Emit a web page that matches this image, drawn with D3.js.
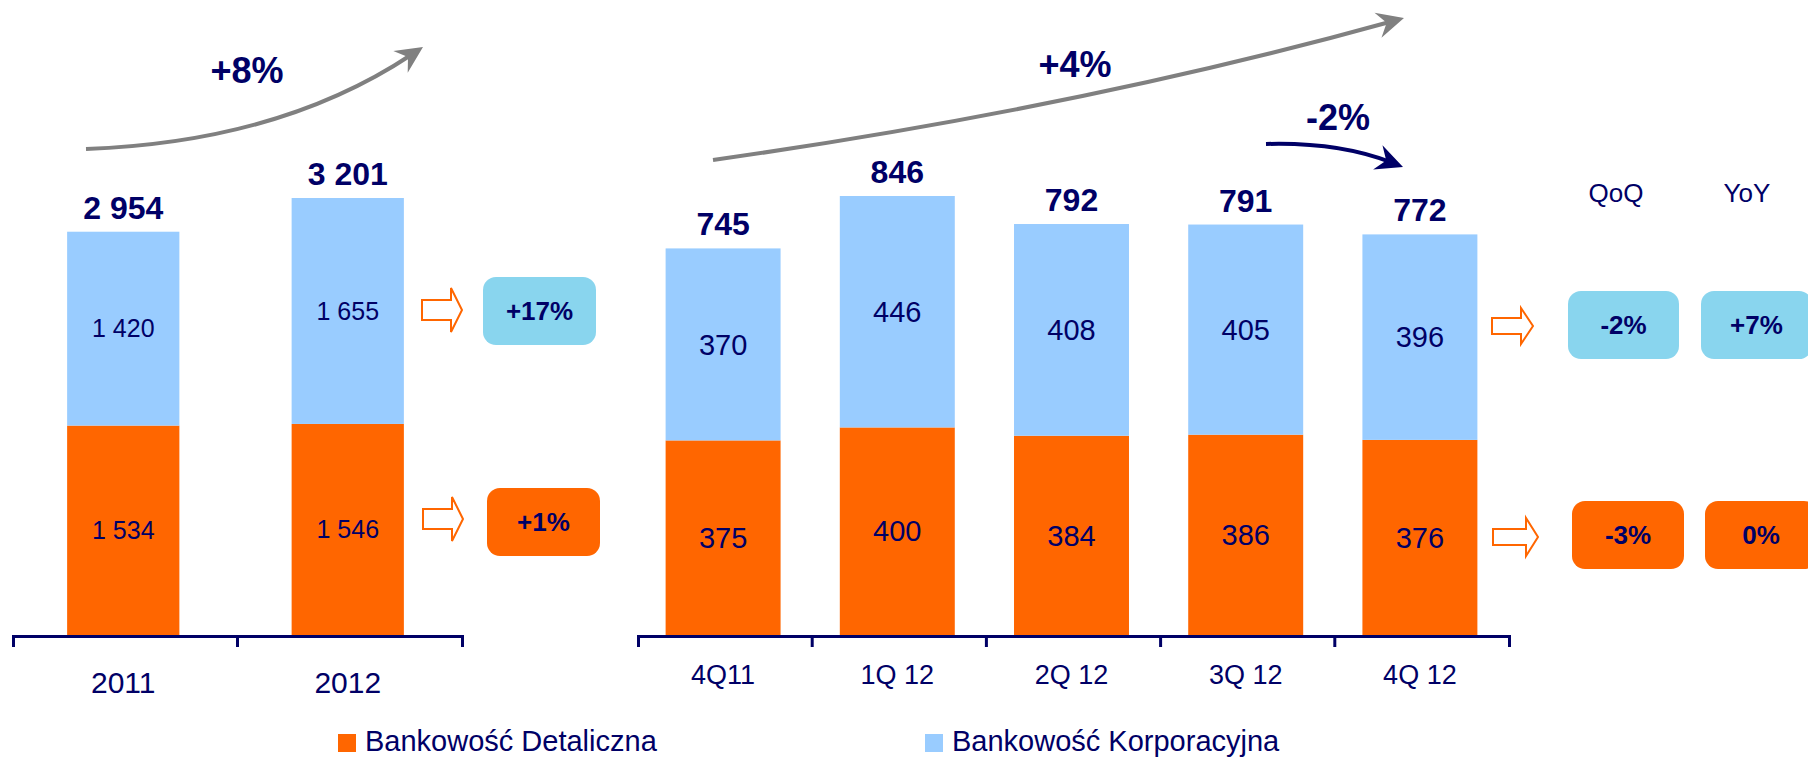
<!DOCTYPE html>
<html>
<head>
<meta charset="utf-8">
<script src="https://cdn.jsdelivr.net/npm/d3@7"></script>
<style>
	body { margin: 0; background: #fff; }
	text { font-family: "Liberation Sans", Arial, sans-serif; fill: #000066; }
</style>
</head>
<body>
<div id="chart"></div>
<script>

// DATA
const years = ["2011", "2012"];
const yearRetail = [1534, 1546];
const yearCorporate = [1420, 1655];

const quarters = ["4Q11", "1Q 12", "2Q 12", "3Q 12", "4Q 12"];
const qRetail = [375, 400, 384, 386, 376];
const qCorporate = [370, 446, 408, 405, 396];

const seriesNames = ["Bankowość Detaliczna", "Bankowość Korporacyjna"];
const yearChange = ["+17%", "+1%"];   // corporate, retail
const qoqChange = ["-2%", "-3%"];
const yoyChange = ["+7%", "0%"];
const changeHeads = ["QoQ", "YoY"];
const trendLabels = ["+8%", "+4%", "-2%"];


// COLOURS
const ORANGE = "#FF6600";
const BLUE = "#99CCFF";
const BOXBLUE = "#89D5EE";
const NAVY = "#000066";
const GREY = "#808080";

const W = 1808, H = 758;
const BASE = 635;
const fmt = d3.formatLocale({ decimal: ",", thousands: " ", grouping: [3], currency: ["", ""] }).format(",");


// svg
const svg = d3.select("#chart")
	.append("svg")
	.attr("width", W)
	.attr("height", H);

// arrow heads
const defs = svg.append("defs");
function marker(id, color) {
	defs.append("marker")
		.attr("id", id)
		.attr("markerUnits", "userSpaceOnUse")
		.attr("viewBox", "-30 -16 32 32")
		.attr("markerWidth", 32)
		.attr("markerHeight", 32)
		.attr("refX", -14)
		.attr("refY", 0)
		.attr("orient", "auto")
		.append("path")
		.attr("d", "M0,0 L-27,-13 L-18,0 L-27,13 Z")
		.attr("fill", color);
}
marker("head-grey", GREY);
marker("head-navy", NAVY);


// STACKED PANEL
function panel(cats, retail, corp, opt) {
	const rows = cats.map((c, i) => ({ cat: c, retail: retail[i], corp: corp[i] }));
	const totals = rows.map(r => r.retail + r.corp);

	const x = d3.scaleBand().domain(cats).range(opt.xr);
	const y = d3.scaleLinear().domain([0, d3.max(totals)]).range([BASE, opt.topPx]);
	const bw = x.bandwidth() * opt.frac;
	const bx = d => x(d.data.cat) + (x.bandwidth() - bw) / 2 + opt.shift;

	const stack = d3.stack().keys(["retail", "corp"])(rows);
	const colors = { retail: ORANGE, corp: BLUE };

	const g = svg.append("g");

	// bars
	g.selectAll("g.layer")
		.data(stack)
		.enter()
		.append("g")
		.attr("fill", s => colors[s.key])
		.selectAll("rect")
		.data(s => s)
		.enter()
		.append("rect")
		.attr("x", bx)
		.attr("width", bw)
		.attr("y", d => y(d[1]))
		.attr("height", d => y(d[0]) - y(d[1]));

	// values inside
	stack.forEach(s => {
		g.selectAll(null)
			.data(s)
			.enter()
			.append("text")
			.text(d => fmt(d[1] - d[0]))
			.attr("x", d => bx(d) + bw / 2)
			.attr("y", d => (y(d[0]) + y(d[1])) / 2)
			.attr("dy", "0.35em")
			.attr("text-anchor", "middle")
			.attr("font-size", opt.innerFont);
	});

	// totals
	g.selectAll(null)
		.data(rows)
		.enter()
		.append("text")
		.text((d, i) => fmt(totals[i]))
		.attr("x", d => x(d.cat) + x.bandwidth() / 2 + opt.shift)
		.attr("y", (d, i) => y(totals[i]) - 13)
		.attr("text-anchor", "middle")
		.attr("font-size", 32)
		.attr("font-weight", "bold");

	// axis
	const axis = g.append("g")
		.attr("transform", `translate(0, ${BASE + 1})`)
		.call(d3.axisBottom(x).tickSizeInner(0).tickSizeOuter(11));
	axis.select(".domain").attr("stroke", NAVY).attr("stroke-width", 3);
	axis.selectAll(".tick text")
		.attr("y", opt.labelBase - BASE - 1)
		.attr("dy", 0)
		.attr("font-size", opt.catFont)
		.attr("transform", `translate(${opt.shift},0)`);
	axis.selectAll("line.sep")
		.data(cats.slice(1))
		.enter()
		.append("line")
		.attr("x1", d => x(d)).attr("x2", d => x(d))
		.attr("y1", 0).attr("y2", 11)
		.attr("stroke", NAVY)
		.attr("stroke-width", 3);
}

panel(years, yearRetail, yearCorporate,
	{ xr: [13, 462], topPx: 198, frac: 0.5, innerFont: 25, catFont: 30, labelBase: 693, shift: -2 });
panel(quarters, qRetail, qCorporate,
	{ xr: [638, 1509], topPx: 196, frac: 0.66, innerFont: 29, catFont: 27, labelBase: 684, shift: -2 });


// TREND ARROWS
function curve(p0, c, tip, color, id) {
	const dx = tip[0] - c[0], dy = tip[1] - c[1];
	const len = Math.hypot(dx, dy);
	const end = [tip[0] - 14 * dx / len, tip[1] - 14 * dy / len];
	svg.append("path")
		.attr("d", `M${p0[0]},${p0[1]} Q${c[0]},${c[1]} ${end[0]},${end[1]}`)
		.attr("fill", "none")
		.attr("stroke", color)
		.attr("stroke-width", 4)
		.attr("marker-end", `url(#${id})`);
}
curve([86, 149], [280, 142], [423, 47], GREY, "head-grey");
curve([713, 160], [1080, 108], [1404, 18], GREY, "head-grey");
curve([1266, 144], [1338, 142], [1403, 167], NAVY, "head-navy");

const trendPos = [[247, 83], [1075, 77], [1338, 130]];
svg.selectAll("text.trend")
	.data(trendLabels)
	.enter()
	.append("text")
	.text(d => d)
	.attr("x", (d, i) => trendPos[i][0])
	.attr("y", (d, i) => trendPos[i][1])
	.attr("text-anchor", "middle")
	.attr("font-size", 36)
	.attr("font-weight", "bold");


// BLOCK ARROWS
function blockArrow(x0, xh, x1, cy, hb, hh) {
	const pts = [[x0, cy - hb], [xh, cy - hb], [xh, cy - hh], [x1, cy], [xh, cy + hh], [xh, cy + hb], [x0, cy + hb]];
	svg.append("path")
		.attr("d", d3.line()(pts) + "Z")
		.attr("fill", "#fff")
		.attr("stroke", ORANGE)
		.attr("stroke-width", 2);
}
blockArrow(422, 451, 462, 310, 10, 22);
blockArrow(423, 452, 463, 519, 10, 22);
blockArrow(1492, 1521, 1533, 326, 8, 18);
blockArrow(1493, 1526, 1538, 537, 8, 19);


// CHANGE BOXES
const boxes = [
	{ t: yearChange[0], x: 483, y: 277, w: 113, fill: BOXBLUE },
	{ t: yearChange[1], x: 487, y: 488, w: 113, fill: ORANGE },
	{ t: qoqChange[0], x: 1568, y: 291, w: 111, fill: BOXBLUE },
	{ t: yoyChange[0], x: 1701, y: 291, w: 111, fill: BOXBLUE },
	{ t: qoqChange[1], x: 1572, y: 501, w: 112, fill: ORANGE },
	{ t: yoyChange[1], x: 1705, y: 501, w: 112, fill: ORANGE }
];
const bg = svg.selectAll("g.box")
	.data(boxes)
	.enter()
	.append("g")
	.attr("transform", d => `translate(${d.x},${d.y})`);
bg.append("rect")
	.attr("width", d => d.w)
	.attr("height", 68)
	.attr("rx", 13)
	.attr("fill", d => d.fill);
bg.append("text")
	.text(d => d.t)
	.attr("x", d => d.w / 2)
	.attr("y", 34)
	.attr("dy", "0.35em")
	.attr("text-anchor", "middle")
	.attr("font-size", 26)
	.attr("font-weight", "bold");

svg.selectAll("text.head")
	.data(changeHeads)
	.enter()
	.append("text")
	.text(d => d)
	.attr("x", (d, i) => [1616, 1747][i])
	.attr("y", 202)
	.attr("text-anchor", "middle")
	.attr("font-size", 26);


// LEGEND
const legend = svg.selectAll("g.legend")
	.data(seriesNames)
	.enter()
	.append("g")
	.attr("transform", (d, i) => `translate(${[338, 925][i]}, 734)`);
legend.append("rect")
	.attr("width", 18)
	.attr("height", 18)
	.attr("fill", (d, i) => [ORANGE, BLUE][i]);
legend.append("text")
	.text(d => d)
	.attr("x", 27)
	.attr("y", 17)
	.attr("font-size", 29);

</script>
</body>
</html>
